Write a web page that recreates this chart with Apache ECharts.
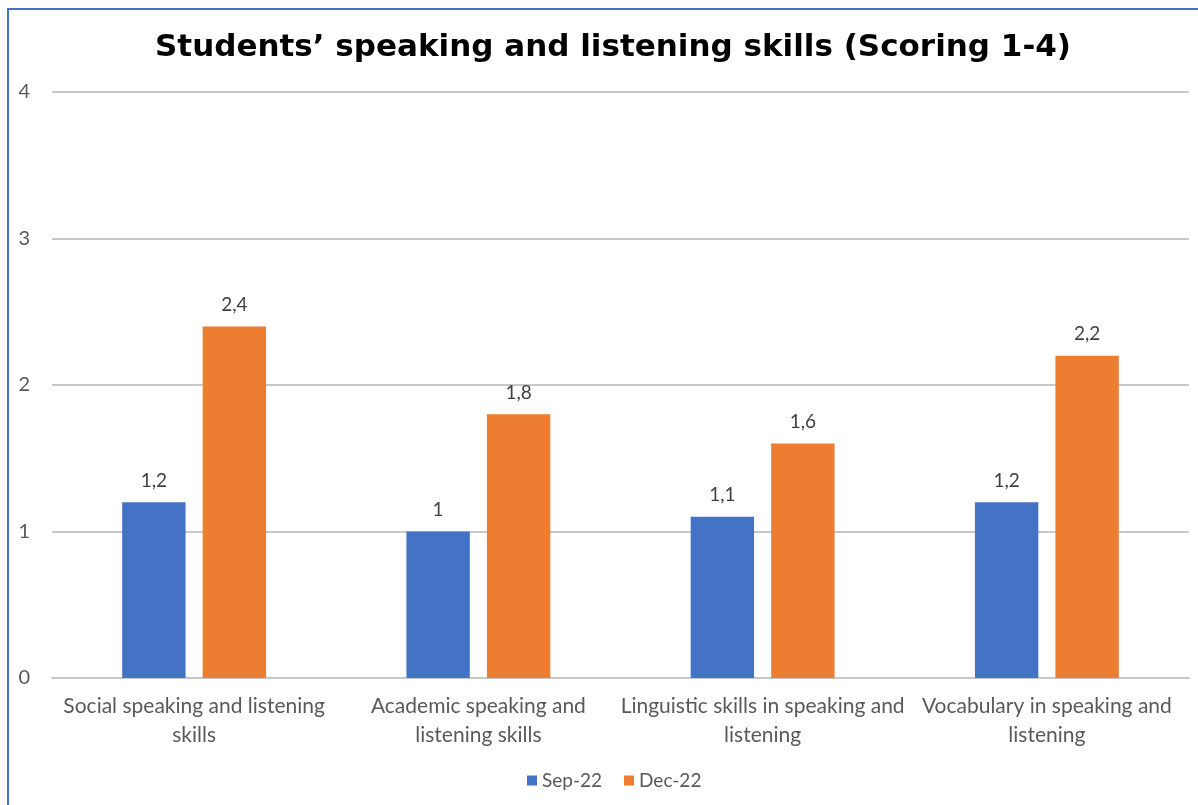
<!DOCTYPE html>
<html>
<head>
    <meta charset="utf-8">
    <title>Students speaking and listening skills</title>
    <script src="https://cdn.jsdelivr.net/npm/echarts@6/dist/echarts.min.js"></script>
    <style>
        html, body { margin: 0; padding: 0; background: #ffffff; }
        #main { width: 1198px; height: 805px; }
    </style>
</head>
<body>
<div id="main"></div>
<script>
    // data
    var categories = [
        'Social speaking and listening\nskills',
        'Academic speaking and\nlistening skills',
        'Linguistic skills in speaking and\nlistening',
        'Vocabulary in speaking and\nlistening'
    ];
    var seriesNames = ['Sep-22', 'Dec-22'];
    var sep22 = [1.2, 1.0, 1.1, 1.2];
    var dec22 = [2.4, 1.8, 1.6, 2.2];
    var yTicks = [0, 1, 2, 3, 4];

    var labelFont = 'Lato, "Open Sans", sans-serif';

    function commaNum(p) {
        return String(p.value).replace('.', ',');
    }

    var myChart = echarts.init(document.getElementById('main'));

    var option = {
        backgroundColor: '#ffffff',
        animation: false,
        title: {
            text: 'Students\u2019 speaking and listening skills (Scoring 1-4)',
            left: 608,
            textAlign: 'center',
            top: 27,
            textStyle: {
                fontFamily: '"DejaVu Sans", "Liberation Sans", sans-serif',
                fontWeight: 'bold',
                fontSize: 31,
                color: '#000000'
            }
        },
        // chart frame (only top and left edges show in the picture)
        graphic: [{
            type: 'rect',
            shape: { x: 8, y: 9, width: 1300, height: 900 },
            style: { fill: 'none', stroke: '#4472c4', lineWidth: 2 },
            silent: true
        }],
        legend: {
            data: seriesNames,
            left: 522,
            top: 766,
            itemWidth: 10,
            itemHeight: 10,
            itemGap: 22,
            icon: 'rect',
            textStyle: {
                fontFamily: labelFont,
                fontSize: 19,
                color: '#595959'
            }
        },
        grid: {
            left: 52,
            right: 9,
            top: 92,
            bottom: 127,
            containLabel: false
        },
        xAxis: {
            type: 'category',
            data: categories,
            axisTick: { show: false },
            axisLine: { lineStyle: { color: '#c8c8c8', width: 2 } },
            axisLabel: {
                interval: 0,
                margin: 14,
                fontFamily: labelFont,
                fontSize: 21,
                lineHeight: 29,
                color: '#595959'
            }
        },
        yAxis: {
            type: 'value',
            min: yTicks[0],
            max: yTicks[yTicks.length - 1],
            interval: 1,
            axisLine: { show: false },
            axisTick: { show: false },
            splitLine: { lineStyle: { color: '#c8c8c8', width: 2 } },
            axisLabel: {
                margin: 22,
                fontFamily: labelFont,
                fontSize: 20,
                color: '#595959'
            }
        },
        series: [{
            name: seriesNames[0],
            type: 'bar',
            data: sep22,
            barWidth: '22.3%',
            barGap: '27%',
            itemStyle: { color: '#4472c4' },
            label: {
                show: true,
                position: 'top',
                distance: 12,
                formatter: commaNum,
                fontFamily: labelFont,
                fontSize: 19,
                color: '#404040'
            }
        }, {
            name: seriesNames[1],
            type: 'bar',
            data: dec22,
            barWidth: '22.3%',
            itemStyle: { color: '#ed7d31' },
            label: {
                show: true,
                position: 'top',
                distance: 12,
                formatter: commaNum,
                fontFamily: labelFont,
                fontSize: 19,
                color: '#404040'
            }
        }]
    };

    myChart.setOption(option);
</script>
</body>
</html>
